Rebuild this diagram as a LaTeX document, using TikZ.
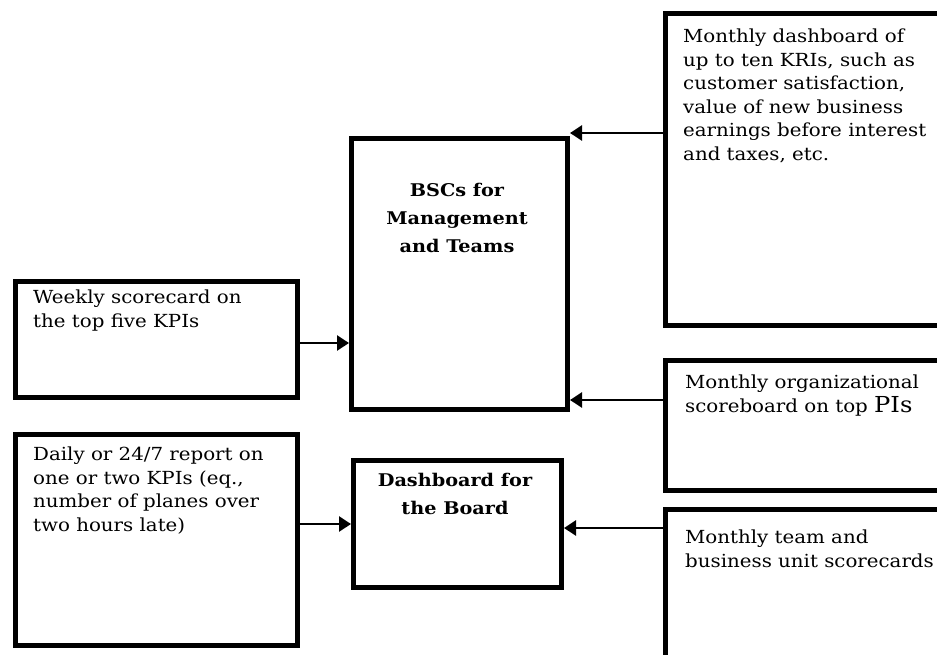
\documentclass[tikz,border=0pt]{standalone}
\usepackage{fontspec}
\setmainfont[FakeStretch=1.1]{DejaVu Serif}
\usetikzlibrary{arrows.meta}
\begin{document}
\begin{tikzpicture}[x=1pt,y=-1pt,
  box/.style={draw=black,line width=5pt,line join=miter,minimum width=#1,
    inner sep=0pt,anchor=north west,fill=white},
  body/.style={anchor=north west,inner sep=0pt,align=left,
    font=\fontsize{18}{23.5}\selectfont},
  title/.style={anchor=north,inner sep=0pt,align=center,
    font=\fontsize{17.5}{28}\selectfont\bfseries},
  arr/.style={draw=black,line width=2.6pt,-{Triangle[length=12pt,width=15pt]}}]
\useasboundingbox (0,0) rectangle (937,654);
\clip (0,0) rectangle (937,654);

% left-hand reports
\node[box=282pt,minimum height=116pt] (weekly) at (13,279) {};
\node[box=282pt,minimum height=211pt] (daily) at (13,432) {};
% central scorecards
\node[box=216pt,minimum height=271pt] (bsc) at (349,136) {};
\node[box=208pt,minimum height=127pt] (dash) at (351,458) {};
% right-hand monthly reports (running past the edge)
\node[box=320pt,minimum height=312pt] (kri) at (663,11) {};
\node[box=320pt,minimum height=130pt] (org) at (663,358) {};
\node[box=320pt,minimum height=200pt] (team) at (663,507) {};

% texts
\node[body] (weekly-t) at (33,290) {Weekly scorecard on\\the top five KPIs};
\node[body] (daily-t) at (33,447) {Daily or 24/7 report on\\one or two KPIs (eq.,\\number of planes over\\two hours late)};
\node[body] (kri-t) at (683,29) {Monthly dashboard of\\up to ten KRIs, such as\\customer satisfaction,\\value of new business\\earnings before interest\\and taxes, etc.};
\node[body] (org-t) at (685,375) {Monthly organizational\\scoreboard on top {\fontsize{22}{23.5}\selectfont PIs}};
\node[body] (team-t) at (685,530) {Monthly team and\\business unit scorecards};
\node[title] (bsc-t) at (457,183) {BSCs for\\Management\\and Teams};
\node[title] (dash-t) at (455,473) {Dashboard for\\the Board};

% connectors
\draw[arr] (weekly.east |- 0,343) -- (bsc.west |- 0,343);
\draw[arr] (daily.east |- dash.west) -- (dash.west);
\draw[arr] (kri.west |- 0,133) -- (bsc.east |- 0,133);
\draw[arr] (org.west |- 0,400) -- (bsc.east |- 0,400);
\draw[arr] (team.west |- 0,528) -- (dash.east |- 0,528);
\end{tikzpicture}
\end{document}
